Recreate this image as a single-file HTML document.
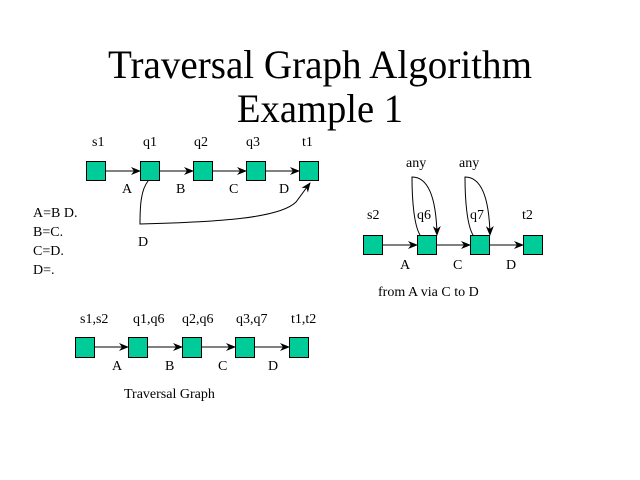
<!DOCTYPE html>
<html><head><style>body{margin:0;background:#fff}svg{display:block}</style></head><body>
<svg width="640" height="480" viewBox="0 0 640 480" xmlns="http://www.w3.org/2000/svg" font-family="Liberation Serif, serif" fill="#000">
<defs><marker id="a" markerWidth="10" markerHeight="8" refX="9" refY="4" orient="auto" markerUnits="userSpaceOnUse"><path d="M0,0 L10,4 L0,8 L3,4 z" fill="#000"/></marker></defs>
<text x="320" y="78" font-size="40" text-anchor="middle" textLength="424" lengthAdjust="spacingAndGlyphs">Traversal Graph Algorithm</text>
<text x="320" y="122" font-size="40" text-anchor="middle" textLength="166" lengthAdjust="spacingAndGlyphs">Example 1</text>
<g font-size="14">
<text x="92" y="146">s1</text><text x="143" y="146">q1</text><text x="194" y="146">q2</text><text x="246" y="146">q3</text><text x="302" y="146">t1</text>
<text x="122" y="193">A</text><text x="176" y="193">B</text><text x="229" y="193">C</text><text x="279" y="193">D</text>
<text x="138" y="246">D</text>
<text x="33" y="217">A=B D.</text><text x="33" y="236">B=C.</text><text x="33" y="255">C=D.</text><text x="33" y="274">D=.</text>
<text x="406" y="167">any</text><text x="459" y="167">any</text>
<text x="367" y="219">s2</text><text x="417" y="219">q6</text><text x="470" y="219">q7</text><text x="522" y="219">t2</text>
<text x="400" y="269">A</text><text x="453" y="269">C</text><text x="506" y="269">D</text>
<text x="378" y="296">from A via C to D</text>
<text x="80" y="323">s1,s2</text><text x="133" y="323">q1,q6</text><text x="182" y="323">q2,q6</text><text x="236" y="323">q3,q7</text><text x="291" y="323">t1,t2</text>
<text x="112" y="370">A</text><text x="165" y="370">B</text><text x="218" y="370">C</text><text x="268" y="370">D</text>
<text x="124" y="398">Traversal Graph</text>
</g>
<g stroke="#000" stroke-width="1" fill="none">
<line x1="106" y1="171" x2="140" y2="171" marker-end="url(#a)"/>
<line x1="159" y1="171" x2="193" y2="171" marker-end="url(#a)"/>
<line x1="212" y1="171" x2="246" y2="171" marker-end="url(#a)"/>
<line x1="265" y1="171" x2="299" y2="171" marker-end="url(#a)"/>
<path d="M148,181 C141,190 140,205 140,224 C220,222 280,218 296,202 L310,183" marker-end="url(#a)"/>
<line x1="383" y1="245" x2="417" y2="245" marker-end="url(#a)"/>
<line x1="436" y1="245" x2="470" y2="245" marker-end="url(#a)"/>
<line x1="489" y1="245" x2="523" y2="245" marker-end="url(#a)"/>
<path d="M420,235 C414,225 412,200 412,177 C425,177 436,190 437,235" marker-end="url(#a)"/>
<path d="M473,235 C467,225 465,200 465,177 C478,177 489,190 490,235" marker-end="url(#a)"/>
<line x1="95" y1="347" x2="128" y2="347" marker-end="url(#a)"/>
<line x1="148" y1="347" x2="182" y2="347" marker-end="url(#a)"/>
<line x1="202" y1="347" x2="235" y2="347" marker-end="url(#a)"/>
<line x1="255" y1="347" x2="289" y2="347" marker-end="url(#a)"/>
</g>
<g fill="#00cc99" stroke="#000" stroke-width="1">
<rect x="86.5" y="161.5" width="19" height="19"/><rect x="140.5" y="161.5" width="19" height="19"/><rect x="193.5" y="161.5" width="19" height="19"/><rect x="246.5" y="161.5" width="19" height="19"/><rect x="299.5" y="161.5" width="19" height="19"/>
<rect x="363.5" y="235.5" width="19" height="19"/><rect x="417.5" y="235.5" width="19" height="19"/><rect x="470.5" y="235.5" width="19" height="19"/><rect x="523.5" y="235.5" width="19" height="19"/>
<rect x="75.5" y="337.5" width="19" height="20"/><rect x="128.5" y="337.5" width="19" height="20"/><rect x="182.5" y="337.5" width="19" height="20"/><rect x="235.5" y="337.5" width="19" height="20"/><rect x="289.5" y="337.5" width="19" height="20"/>
</g>
</svg>
</body></html>
